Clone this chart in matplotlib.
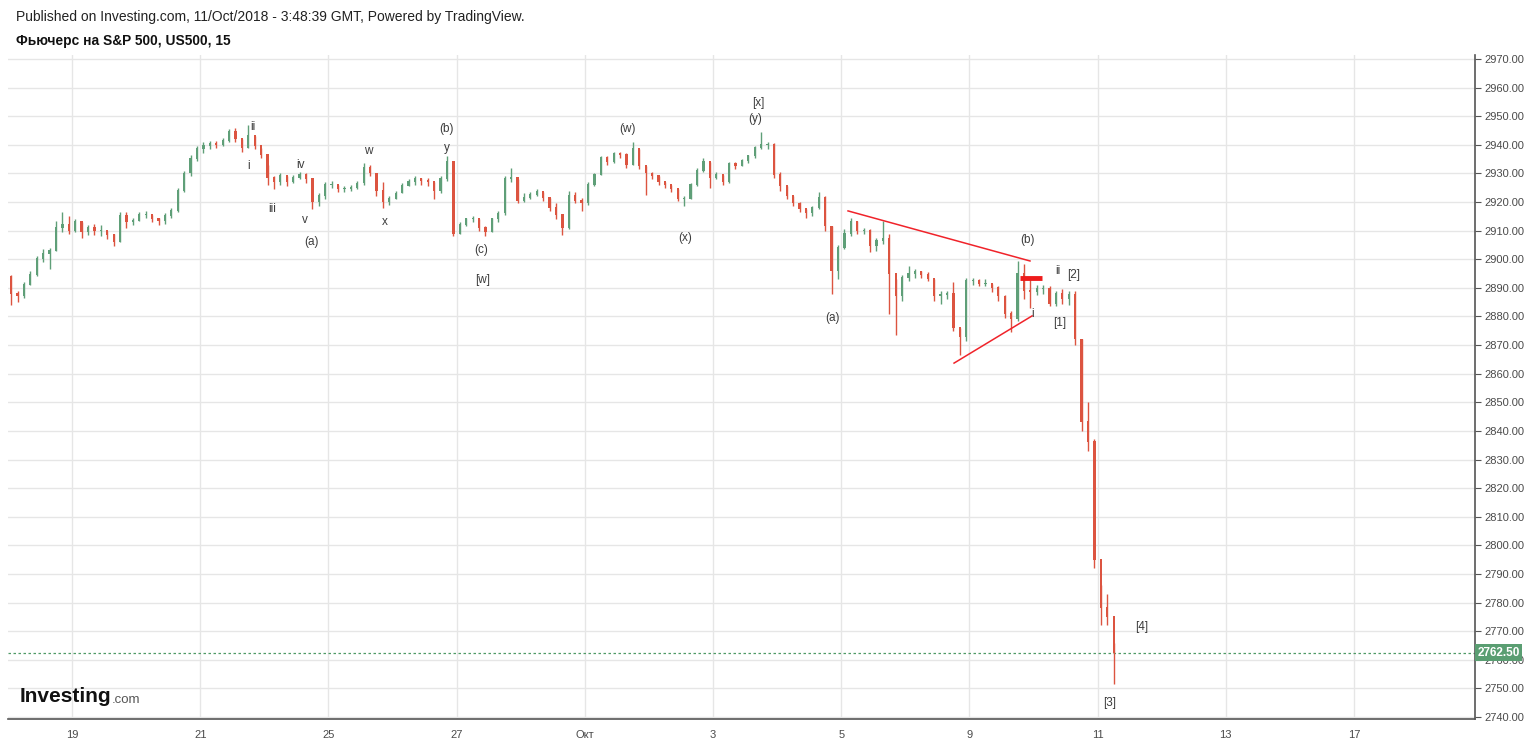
import numpy as np
import matplotlib
matplotlib.use("Agg")
import matplotlib.pyplot as plt
import matplotlib.transforms as mtransforms

plt.rcParams['font.family'] = ['Liberation Sans', 'DejaVu Sans']

# Цены (агрегированные свечи, ~10 на торговый день)
first_open = 2894.0
closes = [2888, 2887, 2891, 2894.5, 2900, 2902, 2903, 2911, 2912, 2910,
          2913, 2909.5, 2911, 2910, 2910, 2908.5, 2906, 2915, 2913, 2913.5,
          2915.5, 2915.5, 2914, 2913.5, 2915, 2917, 2924, 2930, 2935, 2938.5,
          2939.5, 2940.5, 2940, 2941.5, 2944.5, 2942, 2939, 2943, 2939.5, 2936.5,
          2928.5, 2927, 2929, 2927, 2928.5, 2929.5, 2928, 2920, 2922, 2926,
          2926, 2924.5, 2924.5, 2925, 2926.5, 2932, 2930, 2924, 2920, 2921,
          2923, 2925.5, 2927, 2928, 2927.5, 2927, 2924, 2928, 2934, 2909,
          2912, 2914, 2914, 2911, 2909.5, 2914, 2916, 2928, 2928.5, 2920.5,
          2921.5, 2922.5, 2923.5, 2921.5, 2918, 2915.5, 2911, 2922, 2920.5, 2919.5,
          2926, 2929.5, 2935.5, 2934, 2937, 2936.5, 2933, 2938.5, 2932.5, 2930,
          2929, 2927, 2926, 2924.5, 2921, 2921, 2926, 2931, 2934, 2928.5,
          2929.5, 2927, 2933.5, 2932.5, 2934.5, 2936, 2939, 2940, 2940, 2929.5,
          2925.5, 2922, 2919.5, 2917.5, 2916, 2918, 2921.5, 2911.5, 2896, 2904,
          2909, 2913, 2910, 2910, 2904.5, 2906.5, 2907, 2895, 2887, 2893.5,
          2895, 2895.5, 2894.5, 2893, 2887, 2887.5, 2888, 2876, 2873, 2892.5,
          2892.5, 2891.5, 2891.5, 2890, 2887, 2881, 2879, 2895, 2889, 2888.5,
          2889.5, 2889.5, 2884.5, 2888, 2886, 2887.5, 2872, 2843, 2836, 2795,
          2778, 2775, 2762.5]
highs = [2894.5, 2889, 2892, 2896, 2901, 2903.5, 2904, 2913.5, 2916.5, 2915,
         2914, 2913, 2912, 2912.5, 2912, 2910, 2909, 2916.5, 2916.5, 2914.5,
         2916.5, 2917, 2915.5, 2914.5, 2916, 2918, 2925, 2931, 2936.5, 2939.5,
         2941, 2941.5, 2941.5, 2942.5, 2945.5, 2946, 2942, 2947, 2943, 2939,
         2933, 2929, 2930, 2929, 2929.5, 2930.5, 2930, 2928.5, 2923, 2927,
         2927.5, 2926, 2925.5, 2926, 2927.5, 2933.5, 2933, 2930, 2927, 2922,
         2924, 2926.5, 2928, 2929, 2928.5, 2928.5, 2927, 2929, 2936, 2930,
         2913, 2914.5, 2915, 2914, 2911.5, 2914.5, 2917, 2929, 2932, 2928,
         2923, 2923.5, 2924.5, 2923.5, 2921.5, 2919.5, 2915.5, 2924, 2923.5, 2921.5,
         2927, 2930, 2936, 2936, 2937.5, 2937.5, 2937, 2941, 2938.5, 2932.5,
         2930.5, 2929, 2927, 2926, 2924.5, 2922, 2926.5, 2932, 2935.5, 2934,
         2930.5, 2929.5, 2934, 2934, 2935, 2936.5, 2939.5, 2944.5, 2941, 2940.5,
         2930.5, 2925.5, 2922, 2920, 2917.5, 2918.5, 2923.5, 2922, 2911.5, 2905,
         2910.5, 2914.5, 2913.5, 2911, 2910.5, 2907.5, 2913.5, 2909, 2893, 2894.5,
         2897.5, 2896.5, 2896, 2895.5, 2893, 2889, 2889, 2892, 2876, 2893.5,
         2893.5, 2893, 2893, 2891.5, 2890.5, 2887.5, 2882, 2899.5, 2898.5, 2893,
         2891, 2891, 2890.5, 2889, 2889.5, 2889, 2889, 2872, 2850, 2837,
         2786, 2783, 2766]
lows = [2884, 2885, 2886.5, 2891, 2894, 2899, 2896.5, 2903, 2909.5, 2909,
        2909.5, 2907.5, 2908.5, 2908.5, 2908, 2907, 2904.5, 2906, 2911, 2912,
        2913.5, 2914.5, 2913, 2912, 2912.5, 2914.5, 2916.5, 2923.5, 2929, 2934.5,
        2937, 2938.5, 2939, 2939.5, 2941, 2941, 2937.5, 2939, 2938.5, 2935.5,
        2926, 2924.5, 2926, 2925.5, 2926.5, 2928, 2926.5, 2917.5, 2918.5, 2921,
        2925, 2923.5, 2923.5, 2924, 2924.5, 2926, 2929, 2922, 2918, 2919,
        2921, 2923, 2925.5, 2926, 2926, 2925.5, 2921, 2923, 2927.5, 2908,
        2909, 2911.5, 2913, 2910, 2908, 2909.5, 2913, 2915.5, 2927, 2919.5,
        2920, 2921, 2922, 2920.5, 2917, 2914, 2908.5, 2910.5, 2919.5, 2917,
        2919, 2925.5, 2929.5, 2933, 2933.5, 2935.5, 2932, 2933, 2931.5, 2922.5,
        2928, 2926, 2925, 2923.5, 2920.5, 2918.5, 2921, 2925.5, 2930.5, 2925,
        2928, 2926, 2926.5, 2931.5, 2932.5, 2933.5, 2935.5, 2938.5, 2938.5, 2928.5,
        2924, 2921, 2918.5, 2916.5, 2914.5, 2915, 2917.5, 2910, 2888, 2893,
        2903.5, 2908, 2909, 2909, 2902.5, 2903, 2905.5, 2881, 2873.5, 2885.5,
        2892.5, 2893.5, 2893.5, 2892.5, 2885.5, 2884.5, 2886, 2875, 2866.5, 2871.5,
        2891, 2890.5, 2890.5, 2888.5, 2885.5, 2879.5, 2874.5, 2878.5, 2886, 2883,
        2887.5, 2888, 2883.5, 2883.5, 2884.5, 2884, 2870, 2840, 2833, 2792,
        2772, 2772, 2751.5]

bars_per_day = 10
last_price = 2762.5

# подписи оси X (торговые дни)
day_labels = ['19', '21', '25', '27', 'Окт', '3', '5', '9', '11', '13', '17']
day_ticks = [1, 3, 5, 7, 9, 11, 13, 15, 17, 19, 21]
price_ticks = np.arange(2740, 2971, 10)

# волновая разметка: текст, день, цена
waves = [('ii', 3.82, 2946.2), ('i', 3.75, 2932.6), ('iii', 4.12, 2917.6),
         ('iv', 4.56, 2933.0), ('v', 4.64, 2913.7), ('(a)', 4.73, 2906.0),
         ('w', 5.62, 2937.8), ('x', 5.88, 2913.0), ('(b)', 6.85, 2945.5),
         ('y', 6.85, 2938.9), ('(c)', 7.38, 2903.2), ('[w]', 7.40, 2892.8),
         ('(w)', 9.67, 2945.5), ('(x)', 10.56, 2907.4), ('[x]', 11.70, 2954.6),
         ('(y)', 11.66, 2949.0), ('(a)', 12.87, 2879.5), ('(b)', 15.91, 2906.7),
         ('ii', 16.38, 2895.9), ('[2]', 16.62, 2894.5), ('i', 15.98, 2880.9),
         ('[1]', 16.41, 2877.7), ('[4]', 17.69, 2771.5), ('[3]', 17.19, 2745.0)]

UP = '#5f9f78'
DOWN = '#dc5440'

closes = np.array(closes)
highs = np.array(highs)
lows = np.array(lows)
opens = np.r_[first_open, closes[:-1]]
t = (np.arange(len(closes)) + 0.5) / bars_per_day

fig = plt.figure(figsize=(15.33, 7.44), dpi=100)
ax = fig.add_axes([8 / 1533, 1 - 719 / 744, 1467 / 1533, 664 / 744])

colors = np.where(closes >= opens, UP, DOWN)
ax.vlines(t, lows, highs, colors=colors, linewidth=1.0, zorder=3)
ax.bar(t, np.abs(closes - opens) + 0.3, bottom=np.minimum(opens, closes),
       width=0.035, color=colors, zorder=3)

# треугольник и уровень
ax.plot([13.106, 15.945], [2916.9, 2899.4], color='#f0232a', lw=1.1, zorder=4)
ax.plot([14.76, 15.977], [2863.7, 2880.2], color='#f0232a', lw=1.1, zorder=4)
ax.plot([15.79, 16.13], [2893.5, 2893.5], color='#ee1c1c', lw=3.5, zorder=4,
        solid_capstyle='butt')

for txt, d, p in waves:
    ax.text(d, p, txt, fontsize=8.5, color='#3c3c3c', ha='center', va='center',
            zorder=5)

ax.axhline(last_price, color='#4f9a66', lw=0.9, ls=(0, (2, 2)), zorder=2)

ax.set_xlim(0.0016, 22.887)
ax.set_ylim(2739.3, 2971.4)
ax.set_xticks(day_ticks)
ax.set_xticklabels(day_labels)
ax.set_yticks(price_ticks)
ax.set_yticklabels([f'{v:.2f}' for v in price_ticks])
ax.yaxis.tick_right()
ax.grid(True, color='#e6e6e6', lw=1.0, zorder=0)
ax.set_axisbelow(True)
for s in ['top', 'left']:
    ax.spines[s].set_visible(False)
for s in ['right', 'bottom']:
    ax.spines[s].set_color('#555555')
    ax.spines[s].set_linewidth(1.2)
ax.tick_params(axis='y', length=4, width=0.8, color='#555555',
               labelsize=8, labelcolor='#4a4a4a', pad=3)
ax.tick_params(axis='x', length=0, labelsize=8, labelcolor='#4a4a4a', pad=8)

trans = mtransforms.blended_transform_factory(ax.transAxes, ax.transData)
ax.text(1.0015, last_price, '2762.50', transform=trans, fontsize=8.5,
        fontweight='bold', color='white', va='center', ha='left', zorder=6,
        bbox=dict(boxstyle='square,pad=0.22', fc='#5a9e72', ec='none'),
        clip_on=False)

fig.text(16 / 1533, 1 - 17 / 744,
         'Published on Investing.com, 11/Oct/2018 - 3:48:39 GMT, Powered by TradingView.',
         fontsize=10, color='#222222', va='center', ha='left')
fig.text(16 / 1533, 1 - 41 / 744, 'Фьючерс на S&P 500, US500, 15',
         fontsize=9.9, fontweight='bold', color='#111111', va='center', ha='left')

# логотип
fig.text(20 / 1533, 1 - 697 / 744, 'Investing', fontsize=15, fontweight='bold',
         color='#111111', va='center', ha='left')
fig.text(112 / 1533, 1 - 700 / 744, '.com', fontsize=9.5, color='#555555',
         va='center', ha='left')

fig.savefig('out.png', dpi=100, facecolor='white')
